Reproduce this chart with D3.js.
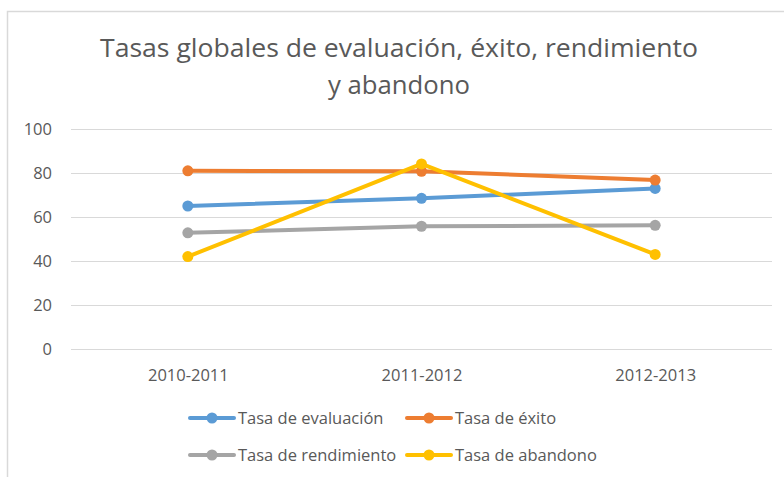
<!DOCTYPE html>
<html>
<head>
<meta charset="utf-8">
<script src="https://cdn.jsdelivr.net/npm/d3@7"></script>
<style>
  html, body { margin: 0; padding: 0; background: #fff; }
  svg { display: block; }
  text { font-family: "Open Sans", "Noto Sans", sans-serif; fill: #595959; }
</style>
</head>
<body>
<svg id="chart" width="784" height="477"></svg>
<script>
const categories = ["2010-2011", "2011-2012", "2012-2013"];
const seriesNames = ["Tasa de evaluación", "Tasa de éxito", "Tasa de rendimiento", "Tasa de abandono"];
const evaluacion = [65.0, 68.5, 73.0];
const exito = [81.0, 80.8, 76.8];
const rendimiento = [52.8, 55.8, 56.2];
const abandono = [42.0, 84.1, 43.0];
const yTicks = [0, 20, 40, 60, 80, 100];
const titleLines = ["Tasas globales de evaluación, éxito, rendimiento", "y abandono"];
const colors = ["#5B9BD5", "#ED7D31", "#A5A5A5", "#FFC000"];

const series = [evaluacion, exito, rendimiento, abandono].map((vals, i) => ({
  name: seriesNames[i], color: colors[i],
  points: vals.map((v, j) => ({ cat: categories[j], value: v }))
}));

const svg = d3.select("#chart");

// chart area border
svg.append("rect")
  .attr("x", 7.5).attr("y", 11.5).attr("width", 820).attr("height", 520)
  .attr("fill", "#fff").attr("stroke", "#d9d9d9").attr("stroke-width", 1.5);

// title
const title = svg.append("text").attr("text-anchor", "middle").attr("font-size", 25);
title.selectAll("tspan").data(titleLines).join("tspan")
  .attr("x", 399).attr("y", (d, i) => 57 + i * 37)
  .text(d => d);
title.select("tspan").attr("textLength", 598).attr("lengthAdjust", "spacingAndGlyphs");
title.selectAll("tspan").filter((d, i) => i === 1).attr("textLength", 142).attr("lengthAdjust", "spacingAndGlyphs");

const x = d3.scalePoint().domain(categories).range([71, 772]).padding(0.5);
const y = d3.scaleLinear().domain([0, 100]).range([349, 129]);

// gridlines
svg.append("g").selectAll("line").data(yTicks).join("line")
  .attr("x1", 71).attr("x2", 772)
  .attr("y1", d => Math.round(y(d)) + 0.5).attr("y2", d => Math.round(y(d)) + 0.5)
  .attr("stroke", "#d9d9d9").attr("stroke-width", 1.2);

// y axis labels
const yAxis = svg.append("g").attr("transform", "translate(71,0)")
  .call(d3.axisLeft(y).tickValues(yTicks).tickSize(0).tickPadding(19));
yAxis.select(".domain").remove();
yAxis.selectAll("text").attr("font-size", 16.5).attr("fill", "#595959")
  .attr("font-family", "'Open Sans', sans-serif");

// x axis labels
const xAxis = svg.append("g").attr("transform", "translate(0,349)")
  .call(d3.axisBottom(x).tickSize(0).tickPadding(20));
xAxis.select(".domain").remove();
xAxis.selectAll("text").attr("font-size", 16.5).attr("fill", "#595959")
  .attr("font-family", "'Open Sans', sans-serif");

// lines
const line = d3.line().x(d => x(d.cat)).y(d => y(d.value));
const g = svg.append("g");
series.forEach(s => {
  g.append("path").datum(s.points).attr("d", line)
    .attr("fill", "none").attr("stroke", s.color).attr("stroke-width", 4)
    .attr("stroke-linejoin", "round").attr("stroke-linecap", "round");
  g.selectAll(null).data(s.points).join("circle")
    .attr("cx", d => x(d.cat)).attr("cy", d => y(d.value)).attr("r", 5.5)
    .attr("fill", s.color);
});

// legend
const legendPos = [[190, 418], [407, 418], [190, 455], [407, 455]];
const leg = svg.append("g");
series.forEach((s, i) => {
  const [lx, ly] = legendPos[i];
  const item = leg.append("g").attr("transform", `translate(${lx},${ly})`);
  item.append("line").attr("x1", 0).attr("x2", 44).attr("y1", 0).attr("y2", 0)
    .attr("stroke", s.color).attr("stroke-width", 4).attr("stroke-linecap", "round");
  item.append("circle").attr("cx", 22).attr("cy", 0).attr("r", 5.5).attr("fill", s.color);
  item.append("text").attr("x", 48).attr("y", 0).attr("dy", "0.35em")
    .attr("font-size", 16.5).text(s.name);
});
</script>
</body>
</html>
